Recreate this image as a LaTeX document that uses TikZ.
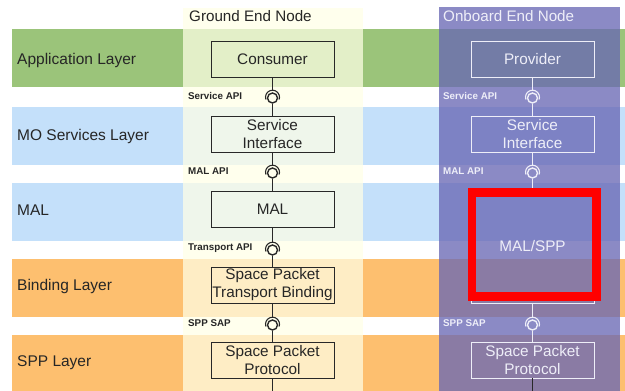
\documentclass[tikz,border=0pt]{standalone}
\usepackage{fontspec}
\setmainfont{Liberation Sans}
\definecolor{bandgreen}{RGB}{155,196,122}
\definecolor{bandblue}{RGB}{196,224,250}
\definecolor{bandorange}{RGB}{253,191,111}
\definecolor{groundcol}{RGB}{255,255,230}
\definecolor{onboardcol}{RGB}{104,103,180}
\definecolor{obtext}{RGB}{238,238,248}
\definecolor{gline}{RGB}{40,40,40}
\begin{document}
\begin{tikzpicture}[x=1pt,y=-1pt,
  layerlabel/.style={anchor=base west, inner sep=0pt, text=black!85, font=\fontsize{15.5}{18}\selectfont},
  headlabel/.style={anchor=base west, inner sep=0pt, font=\fontsize{15.2}{18}\selectfont},
  gbox/.style={draw=gline, line width=0.9pt, minimum width=123pt, minimum height=36pt, inner sep=0pt, align=center, text=black!85, font=\fontsize{15.3}{18}\selectfont},
  obox/.style={gbox, draw=obtext, text=obtext},
  apilabel/.style={anchor=west, inner sep=0pt, text=black!85, font=\fontsize{9.8}{11}\selectfont\bfseries},
  oapilabel/.style={apilabel, text=obtext},
  ball/.style={circle, draw, line width=1.4pt, minimum size=10pt, inner sep=0pt},
  conn/.style={line width=0.9pt}
]
\useasboundingbox (0,0) rectangle (625,391);
% layer bands
\fill[bandgreen]  (12,29)  rectangle (625,87);
\fill[bandblue]   (12,107) rectangle (625,165);
\fill[bandblue]   (12,183) rectangle (625,241);
\fill[bandorange] (12,259) rectangle (625,317);
\fill[bandorange] (12,335) rectangle (625,391);
% columns
\fill[groundcol, opacity=0.73] (183,8) rectangle (363,391);
\fill[onboardcol, opacity=0.77] (439,7) rectangle (620,391);
% headers
\node[headlabel, text=black!85] (ghead) at (189,21) {Ground End Node};
\node[headlabel, text=obtext] (ohead) at (443,21) {Onboard End Node};
% layer labels
\node[layerlabel] (la) at (17,64) {Application Layer};
\node[layerlabel] (lb) at (17,140) {MO Services Layer};
\node[layerlabel] (lc) at (17,215) {MAL};
\node[layerlabel] (ld) at (17,290) {Binding Layer};
\node[layerlabel] (le) at (17,366) {SPP Layer};
% ground boxes
\node[gbox] (cons) at (272.5,59) {Consumer};
\node[gbox] (gsi) at (272.5,134) {Service\\Interface};
\node[gbox] (gmal) at (272.5,209) {MAL};
\node[gbox] (gspb) at (272.5,285) {Space Packet\\Transport Binding};
\node[gbox] (gspp) at (272.5,360) {Space Packet\\Protocol};
% onboard boxes
\node[obox] (prov) at (532.5,59) {Provider};
\node[obox] (osi) at (532.5,134) {Service\\Interface};
\node[obox, minimum height=113pt] (omal) at (532.5,246.5) {MAL/SPP};
\node[obox] (ospp) at (532.5,360) {Space Packet\\Protocol};
% ground sockets
\foreach \n/\y in {g1/98, g2/173, g3/250, g4/325} {
  \node[ball, draw=gline] (\n) at (272.5,\y) {};
  \coordinate (\n t) at (272.5,\y-7.8);
  \draw[gline, line width=1.1pt] ([shift={(160:7)}]\n.center) ++(0,-0.8) arc[start angle=160, end angle=380, radius=7];
}
\foreach \n/\y in {o1/98, o2/173, o4/325} {
  \node[ball, draw=obtext] (\n) at (532.5,\y) {};
  \coordinate (\n t) at (532.5,\y-7.8);
  \draw[obtext, line width=1.1pt] ([shift={(160:7)}]\n.center) ++(0,-0.8) arc[start angle=160, end angle=380, radius=7];
}
% ground connectors
\draw[conn, gline] (cons) -- (g1t);
\draw[conn, gline] (g1) -- (gsi);
\draw[conn, gline] (gsi) -- (g2t);
\draw[conn, gline] (g2) -- (gmal);
\draw[conn, gline] (gmal) -- (g3t);
\draw[conn, gline] (g3) -- (gspb);
\draw[conn, gline] (gspb) -- (g4t);
\draw[conn, gline] (g4) -- (gspp);
% onboard connectors
\draw[conn, obtext] (prov) -- (o1t);
\draw[conn, obtext] (o1) -- (osi);
\draw[conn, obtext] (osi) -- (o2t);
\draw[conn, obtext] (o2) -- (omal);
\draw[conn, obtext] (omal) -- (o4t);
\draw[conn, obtext] (o4) -- (ospp);
% bottom link
\draw[conn, gline] (gspp.south) -- ++(0,12.6) -| (ospp.south);
% API labels
\node[apilabel] (t1) at (188,96) {Service API};
\node[apilabel] (t2) at (188,171.5) {MAL API};
\node[apilabel] (t3) at (188,248.5) {Transport API};
\node[apilabel] (t4) at (188,323.5) {SPP SAP};
\node[oapilabel] (u1) at (443,96) {Service API};
\node[oapilabel] (u2) at (443,171.5) {MAL API};
\node[oapilabel] (u4) at (443,323.5) {SPP SAP};
% highlight
\node[draw=red, line width=8.5pt, minimum width=124.5pt, minimum height=103.7pt, inner sep=0pt] (hl) at (534,244.4) {};
\end{tikzpicture}
\end{document}
